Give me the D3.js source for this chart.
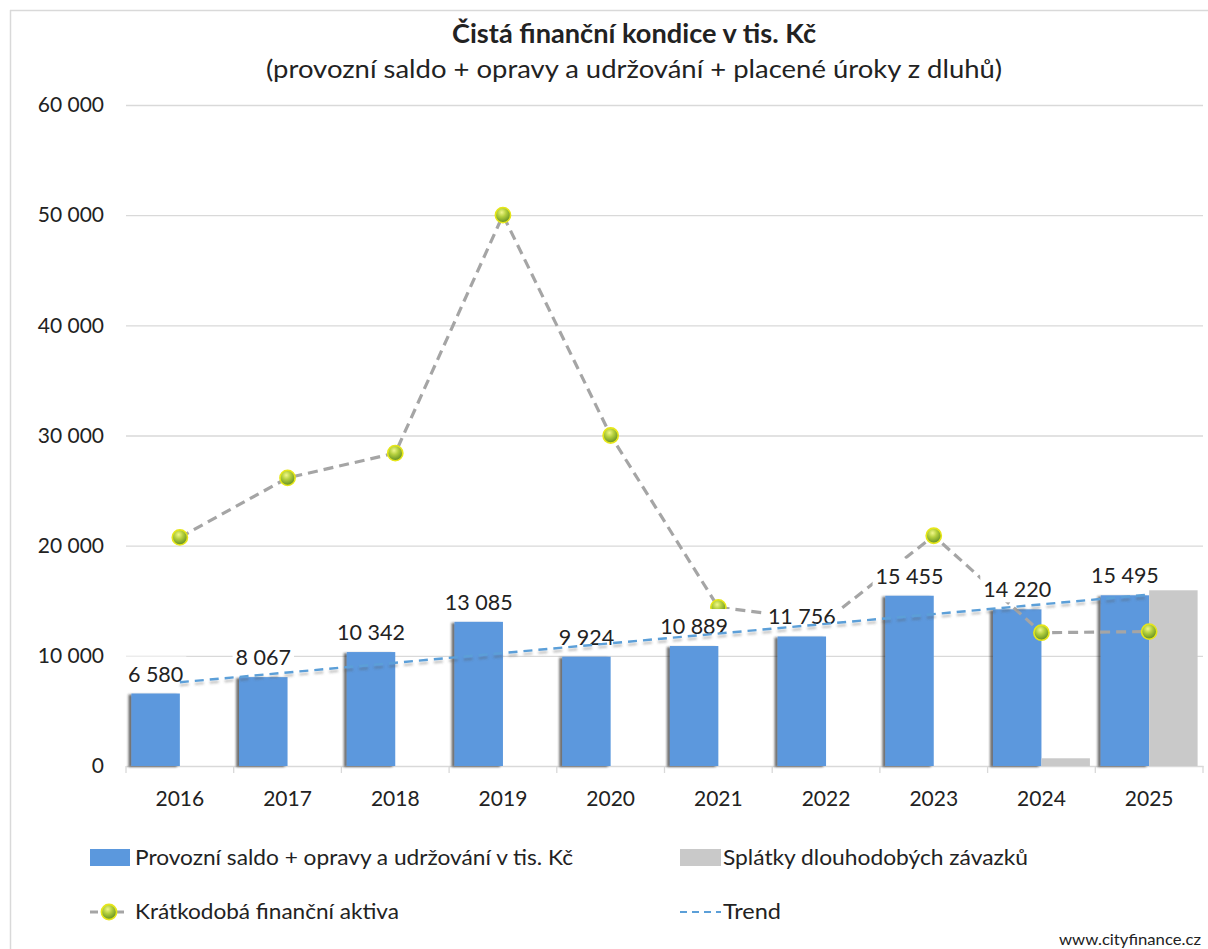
<!DOCTYPE html>
<html>
<head>
<meta charset="utf-8">
<script src="https://cdn.jsdelivr.net/npm/d3@7"></script>
<style>
  body { margin: 0; background: #fff; }
  svg { display: block; }
  text { font-family: Lato, "Open Sans", sans-serif; fill: #222; }
</style>
</head>
<body>
<svg id="chart" width="1208" height="949"></svg>
<script>
// ---- data (tis. Kč) ----
const years = ["2016", "2017", "2018", "2019", "2020", "2021", "2022", "2023", "2024", "2025"];
const operatingBalance = [6580, 8067, 10342, 13085, 9924, 10889, 11756, 15455, 14220, 15495];
const debtRepayments = [0, 0, 0, 0, 0, 0, 0, 0, 700, 15950];
const shortTermAssets = [20750, 26150, 28400, 50000, 30000, 14400, 13200, 20900, 12100, 12200];
const yTicks = [0, 10000, 20000, 30000, 40000, 50000, 60000];

const titleText = "Čistá finanční kondice v tis. Kč";
const subtitleText = "(provozní saldo + opravy a udržování + placené úroky z dluhů)";
const legendLabels = {
  ops: "Provozní saldo + opravy a udržování v tis. Kč",
  debt: "Splátky dlouhodobých závazků",
  assets: "Krátkodobá finanční aktiva",
  trend: "Trend"
};

const COLORS = { ops: "#5b98dd", debt: "#c9c9c9", line: "#a5a5a5", trend: "#5b9fd8", grid: "#d9d9d9" };

const cz = d3.formatLocale({ decimal: ",", thousands: "\u00a0", grouping: [3], currency: ["", " Kč"] });
const fmt = cz.format(",d");

const svg = d3.select("#chart");
const defs = svg.append("defs");

// soft shadow cast to the left of the blue columns
const barShadow = defs.append("filter").attr("id", "barShadow")
  .attr("x", "-30%").attr("y", "-10%").attr("width", "160%").attr("height", "130%");
barShadow.append("feDropShadow").attr("dx", -3).attr("dy", 1)
  .attr("stdDeviation", 1.3).attr("flood-color", "#222").attr("flood-opacity", 0.65);

const lineShadow = defs.append("filter").attr("id", "lineShadow")
  .attr("x", "-5%").attr("y", "-50%").attr("width", "110%").attr("height", "200%");
lineShadow.append("feDropShadow").attr("dx", 0).attr("dy", 3)
  .attr("stdDeviation", 1).attr("flood-color", "#555").attr("flood-opacity", 0.35);

// glossy yellow‑green ball marker
const ball = defs.append("radialGradient").attr("id", "ball")
  .attr("cx", "0.42").attr("cy", "0.32").attr("r", "0.7");
ball.append("stop").attr("offset", "0%").attr("stop-color", "#f0f78a");
ball.append("stop").attr("offset", "40%").attr("stop-color", "#b5d03e");
ball.append("stop").attr("offset", "100%").attr("stop-color", "#5d8a22");

// ---- frame ----
svg.append("line").attr("x1", 10).attr("x2", 1208).attr("y1", 10.5).attr("y2", 10.5)
  .attr("stroke", COLORS.grid).attr("stroke-width", 1.5);
svg.append("line").attr("x1", 10.5).attr("x2", 10.5).attr("y1", 10).attr("y2", 949)
  .attr("stroke", COLORS.grid).attr("stroke-width", 1.5);

// ---- titles ----
svg.append("text").attr("x", 634).attr("y", 43).attr("text-anchor", "middle")
  .attr("font-size", 26).attr("font-weight", 700)
  .attr("textLength", 364).attr("lengthAdjust", "spacingAndGlyphs")
  .text(titleText);
svg.append("text").attr("x", 634).attr("y", 78).attr("text-anchor", "middle")
  .attr("font-size", 25)
  .attr("textLength", 736).attr("lengthAdjust", "spacingAndGlyphs")
  .text(subtitleText);

// ---- scales ----
const plotLeft = 126, plotRight = 1203;
const x = d3.scaleBand().domain(years).range([plotLeft, plotRight]).paddingInner(0.1).paddingOuter(0.05);
const x1 = d3.scaleBand().domain(["ops", "debt"]).range([0, x.bandwidth()]);
const y = d3.scaleLinear().domain([0, 60000]).range([766, 105]);
const cx = d => x(d) + x.bandwidth() / 2;

// ---- gridlines ----
svg.append("g").attr("transform", `translate(${plotLeft},0)`)
  .call(d3.axisLeft(y).tickValues(yTicks.slice(1)).tickSize(-(plotRight - plotLeft)).tickFormat(""))
  .call(g => g.select(".domain").remove())
  .call(g => g.selectAll("line").attr("stroke", COLORS.grid).attr("stroke-width", 1.3));

// ---- y axis labels ----
svg.append("g").attr("transform", "translate(104,0)")
  .call(d3.axisLeft(y).tickValues(yTicks).tickSize(0).tickPadding(0).tickFormat(fmt))
  .call(g => g.select(".domain").remove())
  .call(g => g.selectAll("text").attr("font-size", 21).attr("fill", "#222")
    .attr("font-family", "Lato, sans-serif"));

// ---- x axis ----
const xAxisG = svg.append("g").attr("transform", `translate(0,${y(0)})`)
  .call(d3.axisBottom(x).tickSize(0).tickPadding(25))
  .call(g => g.select(".domain").attr("stroke", COLORS.grid).attr("stroke-width", 1.5))
  .call(g => g.selectAll("text").attr("font-size", 21).attr("fill", "#222")
    .attr("font-family", "Lato, sans-serif"));
const boundaries = years.map(d => x(d) - x.step() * x.paddingInner() / 2).concat([plotRight]);
xAxisG.selectAll("line.bound").data(boundaries).join("line").attr("class", "bound")
  .attr("x1", d => d).attr("x2", d => d).attr("y1", 0).attr("y2", 7)
  .attr("stroke", COLORS.grid).attr("stroke-width", 1.3);

// ---- columns ----
const barsG = svg.append("g");
barsG.selectAll("rect.ops").data(years).join("rect").attr("class", "ops")
  .attr("x", d => x(d) + x1("ops"))
  .attr("width", x1.bandwidth())
  .attr("y", (d, i) => y(operatingBalance[i]))
  .attr("height", (d, i) => y(0) - y(operatingBalance[i]))
  .attr("fill", COLORS.ops)
  .attr("filter", "url(#barShadow)");
barsG.selectAll("rect.debt").data(years.filter((d, i) => debtRepayments[i] > 0)).join("rect")
  .attr("class", "debt")
  .attr("x", d => x(d) + x1("debt"))
  .attr("width", x1.bandwidth())
  .attr("y", d => y(debtRepayments[years.indexOf(d)]))
  .attr("height", d => y(0) - y(debtRepayments[years.indexOf(d)]))
  .attr("fill", COLORS.debt);

// ---- short-term financial assets line ----
const assetPts = years.map((d, i) => [cx(d), y(shortTermAssets[i])]);
svg.append("path").attr("d", d3.line()(assetPts))
  .attr("fill", "none").attr("stroke", COLORS.line).attr("stroke-width", 3.2)
  .attr("stroke-dasharray", "10,6");
svg.append("g").selectAll("circle").data(assetPts).join("circle")
  .attr("cx", d => d[0]).attr("cy", d => d[1]).attr("r", 7.6)
  .attr("fill", "url(#ball)").attr("stroke", "#e6e619").attr("stroke-width", 1.6);

// ---- value labels on the blue columns (white boxed) ----
const labelsG = svg.append("g");
years.forEach((d, i) => {
  const g = labelsG.append("g");
  const bx = x(d) + x1("ops") + x1.bandwidth() / 2;
  const by = y(operatingBalance[i]) - 12;
  const t = g.append("text").attr("x", bx).attr("y", by).attr("text-anchor", "middle")
    .attr("font-size", 21.5).text(fmt(operatingBalance[i]));
  const bb = t.node().getBBox();
  g.insert("rect", "text").attr("x", bb.x - 3).attr("y", by - 25)
    .attr("width", bb.width + 6).attr("height", 30).attr("fill", "#fff");
});

// ---- linear trend of the blue series ----
const idx = years.map((d, i) => i);
const mx = d3.mean(idx), my = d3.mean(operatingBalance);
const slope = d3.sum(idx, i => (i - mx) * (operatingBalance[i] - my)) / d3.sum(idx, i => (i - mx) ** 2);
const intercept = my - slope * mx;
const trendPts = [0, years.length - 1].map(i => [cx(years[i]), y(intercept + slope * i)]);
svg.append("path").attr("d", d3.line()(trendPts))
  .attr("fill", "none").attr("stroke", COLORS.trend).attr("stroke-width", 2.4)
  .attr("stroke-dasharray", "9,6").attr("filter", "url(#lineShadow)");

// ---- legend ----
const lg = svg.append("g");
lg.append("rect").attr("x", 90).attr("y", 849).attr("width", 40).attr("height", 17).attr("fill", COLORS.ops);
lg.append("text").attr("x", 135).attr("y", 865).attr("font-size", 21)
  .attr("textLength", 438).attr("lengthAdjust", "spacingAndGlyphs").text(legendLabels.ops);
lg.append("rect").attr("x", 680).attr("y", 849).attr("width", 41).attr("height", 17).attr("fill", COLORS.debt);
lg.append("text").attr("x", 723).attr("y", 865).attr("font-size", 21)
  .attr("textLength", 305).attr("lengthAdjust", "spacingAndGlyphs").text(legendLabels.debt);

lg.append("line").attr("x1", 90).attr("x2", 128).attr("y1", 912).attr("y2", 912)
  .attr("stroke", COLORS.line).attr("stroke-width", 3.2).attr("stroke-dasharray", "8,5");
lg.append("circle").attr("cx", 109).attr("cy", 912).attr("r", 7.6)
  .attr("fill", "url(#ball)").attr("stroke", "#e6e619").attr("stroke-width", 1.6);
lg.append("text").attr("x", 135).attr("y", 919).attr("font-size", 21)
  .attr("textLength", 264).attr("lengthAdjust", "spacingAndGlyphs").text(legendLabels.assets);
lg.append("line").attr("x1", 680).attr("x2", 721).attr("y1", 912).attr("y2", 912)
  .attr("stroke", COLORS.trend).attr("stroke-width", 2.2).attr("stroke-dasharray", "7,5");
lg.append("text").attr("x", 723).attr("y", 919).attr("font-size", 21)
  .attr("textLength", 58).attr("lengthAdjust", "spacingAndGlyphs").text(legendLabels.trend);

svg.append("text").attr("x", 1201).attr("y", 945).attr("text-anchor", "end")
  .attr("font-size", 15).attr("textLength", 142).attr("lengthAdjust", "spacingAndGlyphs")
  .text("www.cityfinance.cz");
</script>
</body>
</html>
